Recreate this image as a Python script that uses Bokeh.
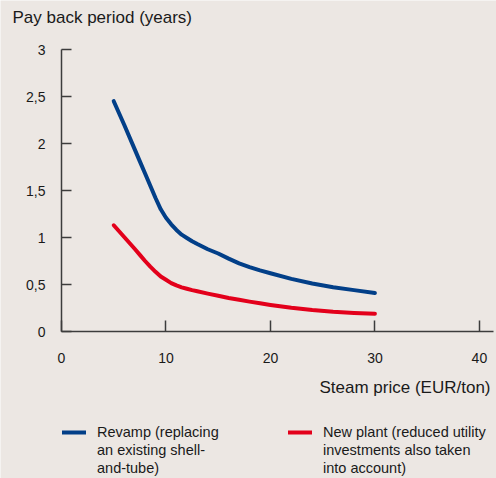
from bokeh.plotting import figure
from bokeh.models import Legend, LegendItem, Range1d, FixedTicker, Label
from bokeh.embed import file_html
from bokeh.resources import INLINE

# ---- data ----
steam_price = [5, 6, 7, 7.5, 8, 8.5, 9, 9.5, 10, 10.5, 11, 11.5, 12, 12.5, 13, 14, 15, 16, 17, 18,
               19, 20, 22, 24, 26, 28, 30]
revamp = [2.45, 2.20, 1.94, 1.81, 1.68, 1.55, 1.42, 1.30, 1.21, 1.14, 1.08, 1.03, 0.995, 0.96,
          0.93, 0.875, 0.83, 0.775, 0.725, 0.685, 0.65, 0.62, 0.56, 0.51, 0.47, 0.44, 0.41]
new_plant = [1.13, 1.005, 0.88, 0.815, 0.75, 0.69, 0.635, 0.585, 0.55, 0.515, 0.49, 0.47, 0.455,
             0.44, 0.428, 0.403, 0.38, 0.357, 0.337, 0.318, 0.30, 0.283, 0.252, 0.228, 0.21,
             0.198, 0.19]
x_ticks = [0, 10, 20, 30, 40]
y_ticks = [0, 0.5, 1, 1.5, 2, 2.5, 3]
y_tick_labels = ["0", "0,5", "1", "1,5", "2", "2,5", "3"]
title_text = "Pay back period (years)"
x_title = "Steam price (EUR/ton)"
revamp_label = ["Revamp (replacing", "an existing shell-", "and-tube)"]
new_label = ["New plant (reduced utility", "investments also taken", "into account)"]

BG = "#ece7e3"
BLUE = "#023f88"
RED = "#e3001b"
TXT = "#1a1a1a"
AX = "#3c3c3c"
FONT = "Liberation Sans"

# canvas geometry (pixels): plot area spans x 61..493, y 49..331
W, H = 496, 478
PX_L, PX_R, PX_T, PX_B = 61, 493, 49, 331
X_MAX, Y_MAX = 41.35, 3.0
sx = (PX_R - PX_L) / X_MAX
sy = (PX_B - PX_T) / Y_MAX

p = figure(width=W, height=H, output_backend="svg", toolbar_location=None,
           x_range=Range1d(-PX_L / sx, (W - PX_L) / sx),
           y_range=Range1d(-(H - PX_B) / sy, PX_B / sy),
           min_border=0)
p.background_fill_color = BG
p.border_fill_color = BG
p.outline_line_color = None
p.grid.visible = False

for ax in (p.xaxis[0], p.yaxis[0]):
    ax.fixed_location = 0
    ax.axis_line_color = AX
    ax.axis_line_width = 1.5
    ax.major_tick_line_color = AX
    ax.major_tick_line_width = 1.5
    ax.major_tick_out = 0
    ax.minor_tick_line_color = None
    ax.major_label_text_font = FONT
    ax.major_label_text_font_size = "14px"
    ax.major_label_text_color = TXT

p.xaxis.bounds = (0, X_MAX)
p.xaxis.ticker = FixedTicker(ticks=x_ticks)
p.xaxis.major_tick_in = 11
p.xaxis.major_label_standoff = 21
p.yaxis.bounds = (0, Y_MAX)
p.yaxis.ticker = FixedTicker(ticks=y_ticks)
p.yaxis.major_tick_in = 10
p.yaxis.major_label_standoff = 16
p.yaxis.major_label_overrides = {t: l for t, l in zip(y_ticks, y_tick_labels)}

r_b = p.line(steam_price, revamp, line_color=BLUE, line_width=4, line_cap="round", line_join="round")
r_r = p.line(steam_price, new_plant, line_color=RED, line_width=4, line_cap="round", line_join="round")
# invisible twins that only carry the continuation lines of the legend labels
r_b0 = p.line(steam_price, revamp, line_alpha=0)
r_r0 = p.line(steam_price, new_plant, line_alpha=0)


def lbl(text, x, y, align="left"):
    p.add_layout(Label(x=x, y=y, x_units="screen", y_units="screen", text=text,
                       text_font=FONT, text_font_size="17px", text_color=TXT,
                       text_align=align, text_baseline="alphabetic"))


lbl(title_text, 12, H - 17)
lbl(x_title, 490, H - 387, align="right")

for r, r0, lines, gx in ((r_b, r_b0, revamp_label, 62), (r_r, r_r0, new_label, 288)):
    items = [LegendItem(label=lines[0], renderers=[r]),
             LegendItem(label=lines[1], renderers=[r0]),
             LegendItem(label=lines[2], renderers=[r0])]
    lg = Legend(items=items, orientation="vertical", location=(gx, 1))
    lg.margin = 0
    lg.padding = 0
    lg.spacing = 0
    lg.border_line_alpha = 0
    lg.background_fill_alpha = 0
    lg.glyph_width = 24
    lg.glyph_height = 18
    lg.label_height = 18
    lg.label_standoff = 11
    lg.label_text_font = FONT
    lg.label_text_font_size = "14.5px"
    lg.label_text_color = TXT
    p.add_layout(lg)

open("out.html", "w").write(file_html(p, INLINE))
